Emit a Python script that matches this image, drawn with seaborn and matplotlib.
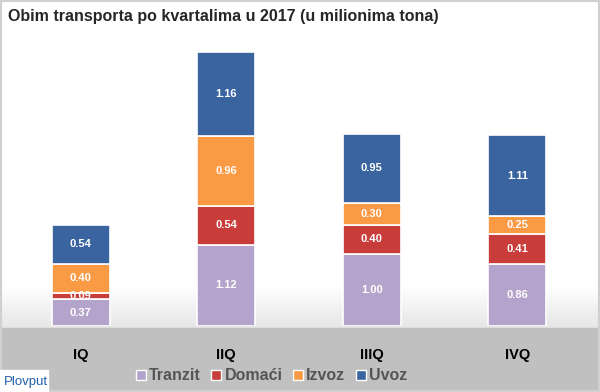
import numpy as np
import pandas as pd
import seaborn as sns
import matplotlib.pyplot as plt
from matplotlib.patches import Rectangle
from matplotlib.lines import Line2D

# Data
quarters = ["IQ", "IIQ", "IIIQ", "IVQ"]
series = ["Tranzit", "Domaći", "Izvoz", "Uvoz"]
tranzit = [0.37, 1.12, 1.00, 0.86]
domaci = [0.09, 0.54, 0.40, 0.41]
izvoz = [0.40, 0.96, 0.30, 0.25]
uvoz = [0.54, 1.16, 0.95, 1.11]
colors = ["#b4a3ca", "#c83c3a", "#fa9a45", "#3a64a0"]

df = pd.DataFrame({"Kvartal": quarters, "Tranzit": tranzit, "Domaći": domaci,
                   "Izvoz": izvoz, "Uvoz": uvoz})

sns.set_theme(style="white")
plt.rcParams["font.family"] = ["Liberation Sans", "DejaVu Sans"]

fig = plt.figure(figsize=(6, 3.92), dpi=100)
fig.patch.set_facecolor("white")

# background: white -> light grey gradient, grey band at the bottom
bg = fig.add_axes([0, 0, 1, 1], zorder=-10)
bg.set_axis_off()
ys = np.arange(392)[:, None] * np.ones((1, 2))
grad = np.where(ys > 285, 1 - 0.1 * ((ys - 285) / 43.0), 1.0)
bg.imshow(grad, cmap="gray", vmin=0, vmax=1, aspect="auto",
          extent=[0, 1, 0, 1], origin="upper")
bg.add_patch(Rectangle((0, 0), 1, 64 / 392, color="#c0c0c0", transform=bg.transAxes))
bg.add_patch(Rectangle((0, 0), 1, 1, fill=False, edgecolor="#d0d0d0", lw=3,
                       transform=bg.transAxes))
bg.set_xlim(0, 1)
bg.set_ylim(0, 1)

ax = fig.add_axes([8 / 600, 66 / 392, 582 / 600, 290 / 392])
ax.patch.set_alpha(0)

bottom = np.zeros(len(quarters))
for name, col in zip(series, colors):
    sns.barplot(data=df, x="Kvartal", y=name, bottom=bottom, color=col, saturation=1,
                width=0.4, edgecolor="white", linewidth=1.2, ax=ax)
    bottom = bottom + df[name].values

for cont in ax.containers:
    ax.bar_label(cont, fmt="%.2f", label_type="center", color="white",
                 fontsize=8, fontweight="bold")

ax.set_xlim(-0.5, 3.5)
ax.set_ylim(0, 4.0)
ax.set_xlabel("")
ax.set_ylabel("")
ax.set_yticks([])
ax.tick_params(axis="x", length=0, pad=16)
for lbl in ax.get_xticklabels():
    lbl.set_fontweight("bold")
    lbl.set_fontsize(10.5)
    lbl.set_color("black")
sns.despine(ax=ax, left=True, bottom=True)

fig.text(8 / 600, 1 - 17 / 392, "Obim transporta po kvartalima u 2017 (u milionima tona)",
         fontsize=11.5, fontweight="bold", va="center", ha="left")

handles = [Line2D([], [], marker="s", linestyle="", markersize=6.5, markerfacecolor=c,
                  markeredgecolor="white") for c in colors]
fig.legend(handles, series, loc="center", bbox_to_anchor=(0.453, 1 - 376 / 392), ncol=4,
           frameon=False, handlelength=0.6, handletextpad=0.2, columnspacing=0.7,
           prop={"weight": "bold", "size": 11.5}, labelcolor="#555555")

# logo box
fig.patches.append(Rectangle((0, 0), 48 / 600, 22 / 392, color="white",
                             transform=fig.transFigure, figure=fig))
fig.text(4 / 600, 10 / 392, "Plovput", color="#1f5fa8", fontsize=9.5,
         va="center", ha="left")

fig.savefig("out.png", dpi=100)
